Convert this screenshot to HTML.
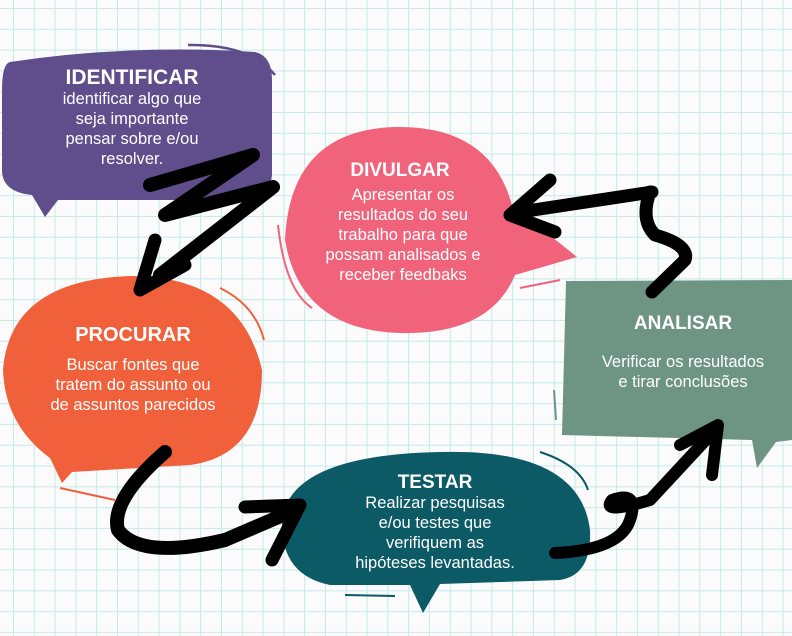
<!DOCTYPE html>
<html><head><meta charset="utf-8"><style>
html,body{margin:0;padding:0;width:792px;height:636px;overflow:hidden}
body{background-color:#fafbfa;background-image:linear-gradient(90deg,#c4eaea 1px,transparent 1px),linear-gradient(#c4eaea 1px,transparent 1px);background-size:20.8px 20.8px;background-position:13px 8px}
svg{position:absolute;left:0;top:0}
.t{font-family:"Liberation Sans",sans-serif;font-weight:bold;fill:#fff;text-anchor:middle}
.b{font-family:"Liberation Sans",sans-serif;fill:#fff;text-anchor:middle;font-size:16.5px}
</style></head><body>
<svg width="792" height="636" viewBox="0 0 792 636">
<!-- Identificar -->
<path d="M10 62 Q130 44 255 52 Q272 56 272 80 L272 175 Q270 198 245 200 L58 200 L45 217 L32 195 Q2 192 2 170 L2 90 Q2 64 10 62Z" fill="#604d8c"/>
<path d="M188 45 Q250 44 275 75" stroke="#604d8c" stroke-width="2.5" fill="none"/>
<text class="t" x="132" y="84" font-size="21">IDENTIFICAR</text>
<text class="b" x="132" y="104">identificar algo que</text>
<text class="b" x="132" y="124">seja importante</text>
<text class="b" x="132" y="144">pensar sobre e/ou</text>
<text class="b" x="132" y="164">resolver.</text>
<!-- Divulgar -->
<path d="M395 127 Q490 125 512 205 L577 257 L515 275 Q490 335 400 333 Q300 330 285 240 Q290 130 395 127Z" fill="#f0637b"/>
<path d="M278 225 Q285 290 312 308" stroke="#f0637b" stroke-width="2" fill="none"/>
<path d="M520 288 L560 280" stroke="#f0637b" stroke-width="2" fill="none"/>
<text class="t" x="400" y="176" font-size="19">DIVULGAR</text>
<text class="b" x="403" y="200">Apresentar os</text>
<text class="b" x="403" y="220">resultados do seu</text>
<text class="b" x="403" y="240">trabalho para que</text>
<text class="b" x="403" y="260">possam analisados e</text>
<text class="b" x="403" y="280">receber feedbaks</text>
<!-- Procurar -->
<path d="M130 276 Q240 276 262 370 Q262 455 190 465 L72 472 L62 483 L50 458 Q5 425 3 370 Q10 280 130 276Z" fill="#f0603a"/>
<path d="M220 288 Q255 305 264 340" stroke="#f0603a" stroke-width="2" fill="none"/>
<path d="M60 488 L115 500" stroke="#f0603a" stroke-width="2" fill="none"/>
<text class="t" x="133" y="341" font-size="20">PROCURAR</text>
<text class="b" x="133" y="370">Buscar fontes que</text>
<text class="b" x="133" y="390">tratem do assunto ou</text>
<text class="b" x="133" y="410">de assuntos parecidos</text>
<!-- Testar -->
<path d="M440 452 Q580 448 590 530 Q592 575 560 580 L440 584 L423 613 L410 585 L330 585 Q280 575 282 520 Q290 455 440 452Z" fill="#0b5a66"/>
<path d="M540 452 Q580 465 588 490" stroke="#0b5a66" stroke-width="2" fill="none"/>
<path d="M345 595 L395 596" stroke="#0b5a66" stroke-width="2" fill="none"/>
<text class="t" x="435" y="488" font-size="19">TESTAR</text>
<text class="b" x="435" y="508">Realizar pesquisas</text>
<text class="b" x="435" y="528">e/ou testes que</text>
<text class="b" x="435" y="548">verifiquem as</text>
<text class="b" x="435" y="568">hipóteses levantadas.</text>
<!-- Analisar -->
<path d="M566 281 L792 280 L792 440 L776 442 L757 468 L752 440 L562 435 Z" fill="#6e9484"/>
<path d="M554 390 L556 420" stroke="#6e9484" stroke-width="2" fill="none"/>
<text class="t" x="683" y="329" font-size="19">ANALISAR</text>
<text class="b" x="683" y="367">Verificar os resultados</text>
<text class="b" x="683" y="387">e tirar conclusões</text>
<!-- arrows -->
<g stroke="#000" stroke-linecap="round" stroke-linejoin="round" fill="none">
<path d="M150 185 L253 155 L165 215 L273 187 L160 275" stroke-width="14"/>
<path d="M155 240 L140 290 L185 265" stroke-width="13"/>
<path d="M650 192 Q640 220 655 235 Q690 245 685 260 L652 292" stroke-width="13"/>
<path d="M652 192 L520 212" stroke-width="13"/>
<path d="M550 180 L510 215 L555 232" stroke-width="13"/>
<path d="M165 452 Q110 500 118 530 Q140 560 225 540 L295 510" stroke-width="14"/>
<path d="M245 507 L300 505 L272 560" stroke-width="13"/>
<path d="M555 553 Q620 550 630 520 Q640 490 612 500 Q600 515 650 500 L715 430" stroke-width="12"/>
<path d="M680 445 L718 425 L712 475" stroke-width="12"/>
</g>
</svg>
</body></html>
